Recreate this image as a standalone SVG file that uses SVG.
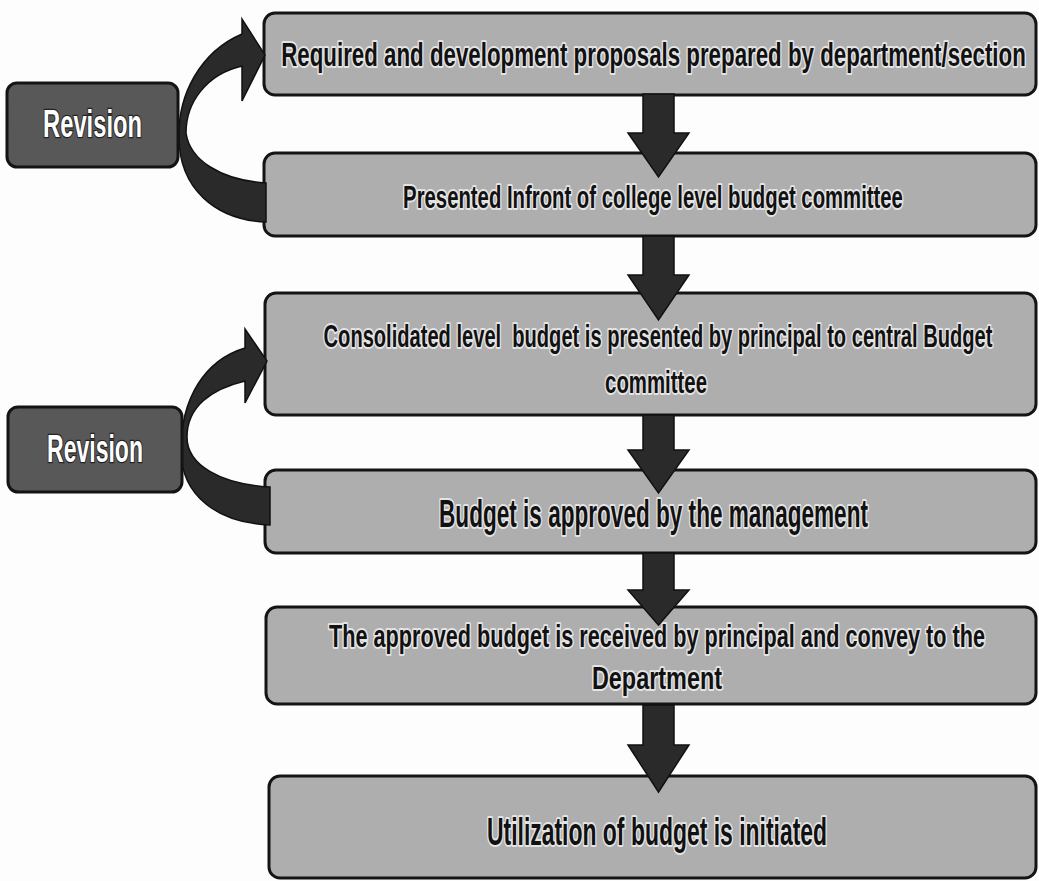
<svg xmlns="http://www.w3.org/2000/svg" width="1039" height="881" viewBox="0 0 1039 881">
<style>
.box{fill:#aeaeae;stroke:#141414;stroke-width:3}
.rev{fill:#585858;stroke:#141414;stroke-width:3}
.t{font-family:"Liberation Sans",Arial,sans-serif;font-weight:bold;fill:#111;text-anchor:middle;stroke:#f4f4f4;stroke-width:4;stroke-opacity:0.8;paint-order:stroke;stroke-linejoin:round}
.rt{font-family:"Liberation Sans",Arial,sans-serif;font-weight:bold;fill:#fff;text-anchor:middle;stroke:#222;stroke-width:2.5;paint-order:stroke}
.arr{fill:#2a2a2a;stroke:#111;stroke-width:1.5;stroke-linejoin:miter}
</style>
<rect width="1039" height="881" fill="#fdfdfd"/>
<g id="n1"><rect class="box" x="264" y="13" width="772" height="82" rx="11"/>
<text class="t" transform="translate(653.5,66) scale(0.656,1)" x="0" y="0" font-size="34" textLength="1135" lengthAdjust="spacingAndGlyphs">Required and development proposals prepared by department/section</text></g>
<g id="n2"><rect class="box" x="264" y="153" width="772" height="83" rx="11"/>
<text class="t" transform="translate(653,208) scale(0.655,1)" x="0" y="0" font-size="31" textLength="763" lengthAdjust="spacingAndGlyphs">Presented Infront of college level budget committee</text></g>
<g id="n3"><rect class="box" x="265" y="293" width="771" height="122" rx="11"/>
<text class="t" transform="translate(658,347) scale(0.628,1)" x="0" y="0" font-size="32" textLength="1065" lengthAdjust="spacingAndGlyphs" xml:space="preserve">Consolidated level  budget is presented by principal to central Budget</text>
<text class="t" transform="translate(656,393) scale(0.637,1)" x="0" y="0" font-size="32" textLength="160" lengthAdjust="spacingAndGlyphs">committee</text></g>
<g id="n4"><rect class="box" x="265" y="470" width="771" height="83" rx="11"/>
<text class="t" transform="translate(653.5,527) scale(0.594,1)" x="0" y="0" font-size="38" textLength="722" lengthAdjust="spacingAndGlyphs">Budget is approved by the management</text></g>
<g id="n5"><rect class="box" x="266" y="607" width="770" height="97" rx="11"/>
<text class="t" transform="translate(657,647) scale(0.677,1)" x="0" y="0" font-size="32" textLength="969" lengthAdjust="spacingAndGlyphs">The approved budget is received by principal and convey to the</text>
<text class="t" transform="translate(657,689) scale(0.731,1)" x="0" y="0" font-size="32" textLength="178" lengthAdjust="spacingAndGlyphs">Department</text></g>
<g id="n6"><rect class="box" x="269" y="776" width="767" height="102" rx="11"/>
<text class="t" transform="translate(657,845) scale(0.603,1)" x="0" y="0" font-size="38" textLength="564" lengthAdjust="spacingAndGlyphs">Utilization of budget is initiated</text></g>
<g id="connectors">
<path class="arr" d="M643,94 H674 V133 H689 L658.5,177 L628,133 H643 Z"/>
<path class="arr" d="M643,236 H674 V275 H689 L658.5,320 L628,275 H643 Z"/>
<path class="arr" d="M643,415 H674 V450 H689 L658.5,493 L628,450 H643 Z"/>
<path class="arr" d="M643,553 H674 V590 H689 L658.5,625 L628,590 H643 Z"/>
<path class="arr" d="M643,705 H674 V745 H689 L658.5,792 L628,745 H643 Z"/>
<path class="arr" d="M266,222 C215,220 179,188 179,137 C178,95 200,52 242,34 L242,19 L265,55 L242,101 L242,66 C207,74 186,102 186,133 C190,160 220,180 266,183 Z"/>
<path class="arr" d="M270,525 C218,523 181,496 181,450 C181,398 205,360 245,348 L245,329 L267,361 L245,403 L245,381 C211,389 187,407 187,437 C187,465 220,484 270,487 Z"/>
</g>
<g id="r1"><rect class="rev" x="7" y="83" width="171" height="84" rx="10"/>
<text class="rt" transform="translate(92.5,137) scale(0.626,1)" x="0" y="0" font-size="38" textLength="158" lengthAdjust="spacingAndGlyphs">Revision</text></g>
<g id="r2"><rect class="rev" x="8" y="407" width="174" height="85" rx="10"/>
<text class="rt" transform="translate(95,462) scale(0.607,1)" x="0" y="0" font-size="38" textLength="158" lengthAdjust="spacingAndGlyphs">Revision</text></g>
</svg>
